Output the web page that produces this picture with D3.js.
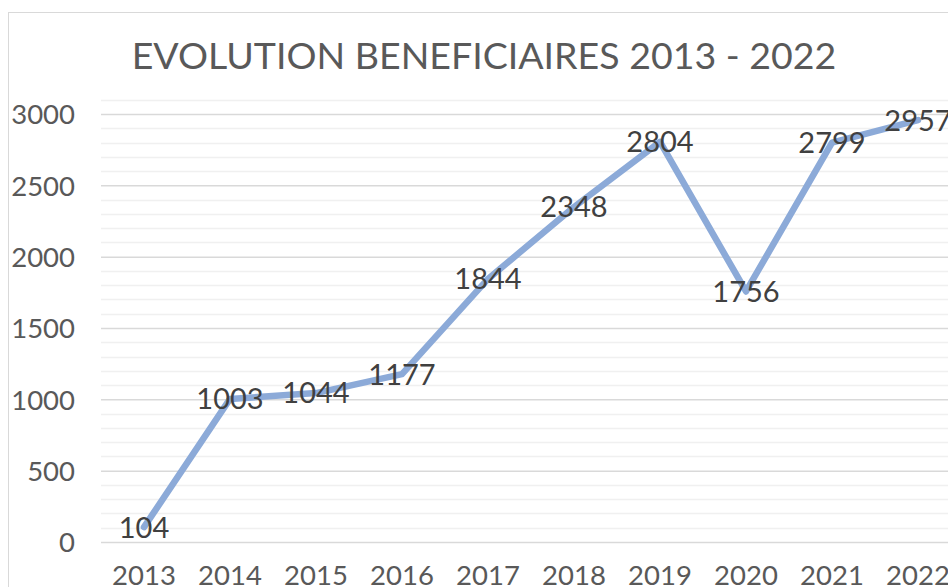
<!DOCTYPE html>
<html>
<head>
<meta charset="utf-8">
<script src="https://cdn.jsdelivr.net/npm/d3@7"></script>
<style>
  body { margin: 0; background: #fff; overflow: hidden; }
  svg { display: block; font-family: 'Lato', 'DejaVu Sans', sans-serif; }
</style>
</head>
<body>
<script>
// chart data
const years = ['2013', '2014', '2015', '2016', '2017', '2018', '2019', '2020', '2021', '2022'];
const beneficiaires = [104, 1003, 1044, 1177, 1844, 2348, 2804, 1756, 2799, 2957];
const yTicks = [0, 500, 1000, 1500, 2000, 2500, 3000];
const minorTicks = d3.range(0, 3200, 100);
const title = 'EVOLUTION BENEFICIAIRES 2013 - 2022';

const width = 948, height = 587;
const plot = { left: 101, right: 961, top: 114, bottom: 542 };

const svg = d3.select('body').append('svg')
  .attr('width', width)
  .attr('height', height);

// chart frame
svg.append('rect')
  .attr('x', 8.5).attr('y', 12.5)
  .attr('width', 1000).attr('height', 700)
  .attr('fill', 'none')
  .attr('stroke', '#d9d9d9')
  .attr('stroke-width', 1);

const x = d3.scaleBand()
  .domain(years)
  .range([plot.left, plot.right]);

const y = d3.scaleLinear()
  .domain([0, 3000])
  .range([plot.bottom, plot.top]);

// minor gridlines
svg.append('g')
  .selectAll('line')
  .data(minorTicks.filter(d => d % 500 !== 0))
  .enter().append('line')
  .attr('x1', plot.left).attr('x2', plot.right)
  .attr('y1', d => Math.round(y(d)) + 0.5)
  .attr('y2', d => Math.round(y(d)) + 0.5)
  .attr('stroke', '#f0f0f0')
  .attr('stroke-width', 1.5);

// major gridlines + y labels
const yAxis = d3.axisLeft(y)
  .tickValues(yTicks)
  .tickSize(-(plot.right - plot.left))
  .tickPadding(26)
  .tickFormat(d3.format('d'));

const yAxisGroup = svg.append('g')
  .attr('transform', 'translate(' + plot.left + ',0)')
  .call(yAxis);
yAxisGroup.select('.domain').remove();
yAxisGroup.selectAll('.tick line')
  .attr('stroke', '#d9d9d9')
  .attr('stroke-width', 1.5);
yAxisGroup.selectAll('.tick text')
  .attr('fill', '#595959')
  .style('font-size', '27.5px')
  .style('font-family', 'Lato, sans-serif')
  .attr('dy', '0.36em');

// x labels
const xAxis = d3.axisBottom(x).tickSize(0).tickPadding(0);
const xAxisGroup = svg.append('g')
  .attr('transform', 'translate(0,' + plot.bottom + ')')
  .call(xAxis);
xAxisGroup.select('.domain').remove();
xAxisGroup.selectAll('.tick text')
  .attr('fill', '#595959')
  .attr('dy', 0)
  .attr('y', 43)
  .style('font-size', '27.5px')
  .style('font-family', 'Lato, sans-serif');

// title
svg.append('text')
  .attr('x', 484).attr('y', 69)
  .attr('text-anchor', 'middle')
  .attr('fill', '#595959')
  .style('font-size', '37.5px')
  .text(title);

// line
const line = d3.line()
  .x((d, i) => x(years[i]) + x.bandwidth() / 2)
  .y(d => y(d));

svg.append('path')
  .datum(beneficiaires)
  .attr('d', line)
  .attr('fill', 'none')
  .attr('stroke', '#8caad8')
  .attr('stroke-width', 6.5)
  .attr('stroke-linejoin', 'round')
  .attr('stroke-linecap', 'round');

// data labels, centered on the points
svg.append('g')
  .selectAll('text')
  .data(beneficiaires)
  .enter().append('text')
  .attr('x', (d, i) => x(years[i]) + x.bandwidth() / 2)
  .attr('y', d => y(d))
  .attr('dy', '0.36em')
  .attr('text-anchor', 'middle')
  .attr('fill', '#404040')
  .style('font-size', '29px')
  .text(d => d);
</script>
</body>
</html>
